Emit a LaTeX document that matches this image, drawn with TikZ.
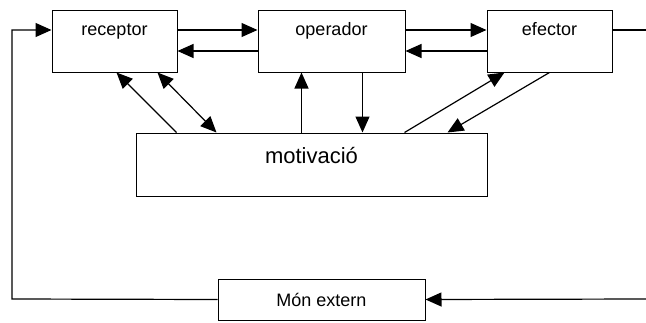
\documentclass[tikz,border=0pt]{standalone}
\usepackage{fontspec}
\setmainfont{Liberation Sans}
\usetikzlibrary{arrows.meta,calc}

\begin{document}
\begin{tikzpicture}[x=1pt, y=-1pt, line width=1.2pt,
  box/.style={draw, fill=white, line width=1pt, inner xsep=0pt, inner ysep=0pt, font=\fontsize{18}{20}\selectfont},
  topbox/.style={box, text height=25pt, text depth=37pt},
  arr/.style={-{Triangle[length=16pt,width=14pt]}},
  darr/.style={{Triangle[length=16pt,width=14pt]}-{Triangle[length=16pt,width=14pt]}}]
\useasboundingbox (0,0) rectangle (646,322);
% caixes
\node[topbox, minimum width=125pt] (receptor) at (114.5,41) {receptor};
\node[topbox, minimum width=147pt] (operador) at (331.5,41) {operador};
\node[topbox, minimum width=125pt] (efector) at (549.5,41) {efector};
\node[box, minimum width=351pt, text height=30pt, text depth=33pt, font=\fontsize{22}{24}\selectfont] (motiv) at (311.5,164.5) {motivació};
\node[box, minimum width=207pt, minimum height=41pt] (mon) at (321.5,299.5) {Món extern};
\coordinate (cornerL) at (12,299);
\coordinate (edgeT) at (646,30);
\coordinate (edgeB) at (646,299);
% fletxes horitzontals
\draw[arr] ([yshift=11pt]receptor.east) -- ([yshift=11pt]operador.west);
\draw[arr] ([yshift=-10pt]operador.west) -- ([yshift=-10pt]receptor.east);
\draw[arr] ([yshift=11pt]operador.east) -- ([yshift=11pt]efector.west);
\draw[arr] ([yshift=-10pt]efector.west) -- ([yshift=-10pt]operador.east);
% motivacio
\draw[arr] ([xshift=41pt]motiv.north west) -- ([xshift=65pt]receptor.south west);
\draw[darr] ([xshift=106pt]receptor.south west) -- ([xshift=81pt]motiv.north west);
\draw[arr] ([xshift=166pt]motiv.north west) -- ([xshift=44pt]operador.south west);
\draw[arr] ([xshift=105pt]operador.south west) -- ([xshift=227pt]motiv.north west);
\draw[arr] ([xshift=269pt]motiv.north west) -- ([xshift=18pt]efector.south west);
\draw[arr] ([xshift=63pt]efector.south west) -- ([xshift=312pt]motiv.north west);
% bucle exterior
\draw[arr] (mon.west) -- (cornerL) |- ([yshift=11pt]receptor.west);
\draw ([yshift=11pt]efector.east) -- (edgeT);
\draw[arr] (edgeB) -- (mon.east);
\end{tikzpicture}
\end{document}
